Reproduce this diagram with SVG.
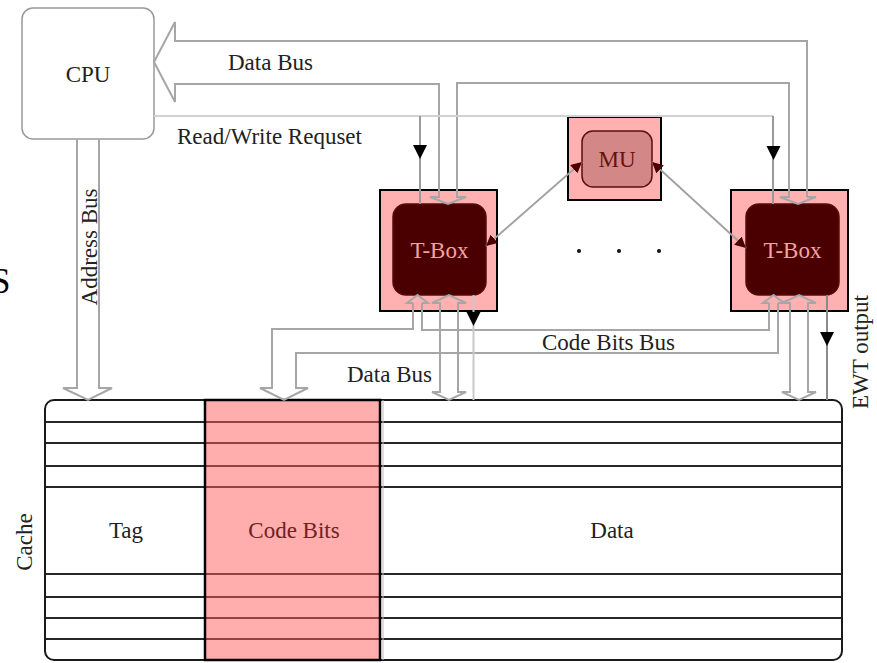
<svg xmlns="http://www.w3.org/2000/svg" xmlns:xlink="http://www.w3.org/1999/xlink" width="877" height="663" viewBox="0 0 877 663">
<defs>
<style>
text{font-family:"Liberation Serif","DejaVu Serif",serif;font-size:23px;fill:#222}
.bus{fill:none;stroke:#a6a6a6;stroke-width:2;stroke-linejoin:miter}
.rw{fill:none;stroke:#d2d2d2;stroke-width:2}
.drop{fill:none;stroke:#9a9a9a;stroke-width:2}
.outer{fill:#ffb0b0;stroke:#000;stroke-width:2}
.inner{fill:#4a0000;stroke:#5a0a0a;stroke-width:1.5}
.tbt{fill:#f2a3a3;text-anchor:middle}
.row{stroke:#262626;stroke-width:2}
.mu{fill:none;stroke:#a0a0a0;stroke-width:1.8}
</style>
<path id="tri" d="M-7,0 H7 L0,14 Z" fill="#000"/>
<marker id="ah" viewBox="0 0 10 10" refX="10" refY="5" markerWidth="11" markerHeight="11" markerUnits="userSpaceOnUse" orient="auto-start-reverse">
<path d="M0,0 L10,5 L0,10 z" fill="#4a0000"/>
</marker>
</defs>
<rect width="877" height="663" fill="#fff"/>

<text x="-9" y="293" font-family="Liberation Serif, serif" style="font-size:35px;fill:#000">S</text>

<g id="cpu">
<rect x="22" y="8" width="132" height="131" rx="11" fill="#fff" stroke="#999" stroke-width="1.5"/>
<text x="88" y="82" text-anchor="middle">CPU</text>
</g>

<g id="tbox1">
<rect class="outer" x="380" y="190" width="117" height="121"/>
<rect class="inner" x="393" y="204" width="93" height="91" rx="13"/>
<text class="tbt" x="439.5" y="258">T-Box</text>
</g>

<g id="mu">
<rect class="outer" x="568" y="117" width="93" height="83"/>
<rect x="582" y="131" width="70" height="56" rx="11" fill="#d48787" stroke="#5a1010" stroke-width="1.5"/>
<text x="617" y="167" text-anchor="middle" style="fill:#6a1010">MU</text>
</g>

<g id="tbox2">
<rect class="outer" x="731" y="190" width="117" height="121"/>
<rect class="inner" x="746" y="204" width="93" height="91" rx="13"/>
<text class="tbt" x="792.5" y="258">T-Box</text>
</g>

<g id="dots" fill="#111">
<circle cx="579" cy="251" r="2"/>
<circle cx="619" cy="251" r="2"/>
<circle cx="659" cy="251" r="2"/>
</g>

<g id="cache">
<rect x="45" y="400" width="797" height="260" rx="9" fill="#fff" stroke="#1a1a1a" stroke-width="2"/>
<g class="row">
<line x1="46" y1="422" x2="841" y2="422"/>
<line x1="46" y1="443" x2="841" y2="443"/>
<line x1="46" y1="466" x2="841" y2="466"/>
<line x1="46" y1="487" x2="841" y2="487"/>
<line x1="46" y1="574" x2="841" y2="574"/>
<line x1="46" y1="597" x2="841" y2="597"/>
<line x1="46" y1="618" x2="841" y2="618"/>
<line x1="46" y1="639" x2="841" y2="639"/>
</g>
<rect x="205" y="400" width="175" height="260" fill="#ff5c5c" fill-opacity="0.5" stroke="#000" stroke-width="2.5"/>
<line x1="383" y1="400" x2="383" y2="660" stroke="#bbb" stroke-width="1"/>
<text x="126" y="538" text-anchor="middle">Tag</text>
<text x="294" y="538" text-anchor="middle" style="fill:#6e2222">Code Bits</text>
<text x="612" y="538" text-anchor="middle">Data</text>
<text transform="translate(32,542) rotate(-90)" text-anchor="middle">Cache</text>
</g>

<g id="connectors">
<path class="bus" d="M807,197 V41 H175 V22 L154,62 L175,102 V84 H439 V197 H430 L448,204 L466,197 H457 V83 H789 V197 H780 L798,204 L816,197 H807"/>
<path class="rw" d="M154,116 H773"/>
<path class="drop" d="M420,116 V204 M773,116 V204"/>
<use xlink:href="#tri" x="420" y="145"/>
<use xlink:href="#tri" x="773.5" y="146"/>
<path class="bus" d="M77,139 V388 H63 L88,400 L112,388 H99 V139"/>
<path class="bus" d="M413,303 V329 H272 V388 H260 L284,400 L308,388 H296 V353 H778 V303"/>
<path class="bus" d="M422,303 V330 H769 V303"/>
<path class="bus" d="M413,303 H407 L417.5,295 L428,303 H422"/>
<path class="bus" d="M769,303 H763 L773.5,295 L784,303 H778"/>
<path class="bus" d="M440,303 V392 H432 L449,400 L466,392 H458 V303 H466 L449,295 L432,303 Z"/>
<path class="bus" d="M790,303 V392 H782 L799,400 L816,392 H808 V303 H816 L799,295 L782,303 Z"/>
<path d="M473.5,295 V400" fill="none" stroke="#c8c8c8" stroke-width="2"/>
<use xlink:href="#tri" x="473.5" y="312"/>
<path d="M827,295 V400" fill="none" stroke="#8a8a8a" stroke-width="2"/>
<use xlink:href="#tri" x="827" y="332"/>
<line class="mu" x1="486" y1="246" x2="582" y2="162" marker-start="url(#ah)" marker-end="url(#ah)"/>
<line class="mu" x1="652" y1="162" x2="746" y2="248" marker-start="url(#ah)" marker-end="url(#ah)"/>
</g>

<g id="labels">
<text x="228" y="70">Data Bus</text>
<text x="177" y="144">Read/Write Requset</text>
<text x="542" y="350">Code Bits Bus</text>
<text x="347" y="382">Data Bus</text>
<text transform="translate(97,247) rotate(-90)" text-anchor="middle">Address Bus</text>
<text transform="translate(868,352) rotate(-90)" text-anchor="middle">EWT output</text>
</g>
</svg>
